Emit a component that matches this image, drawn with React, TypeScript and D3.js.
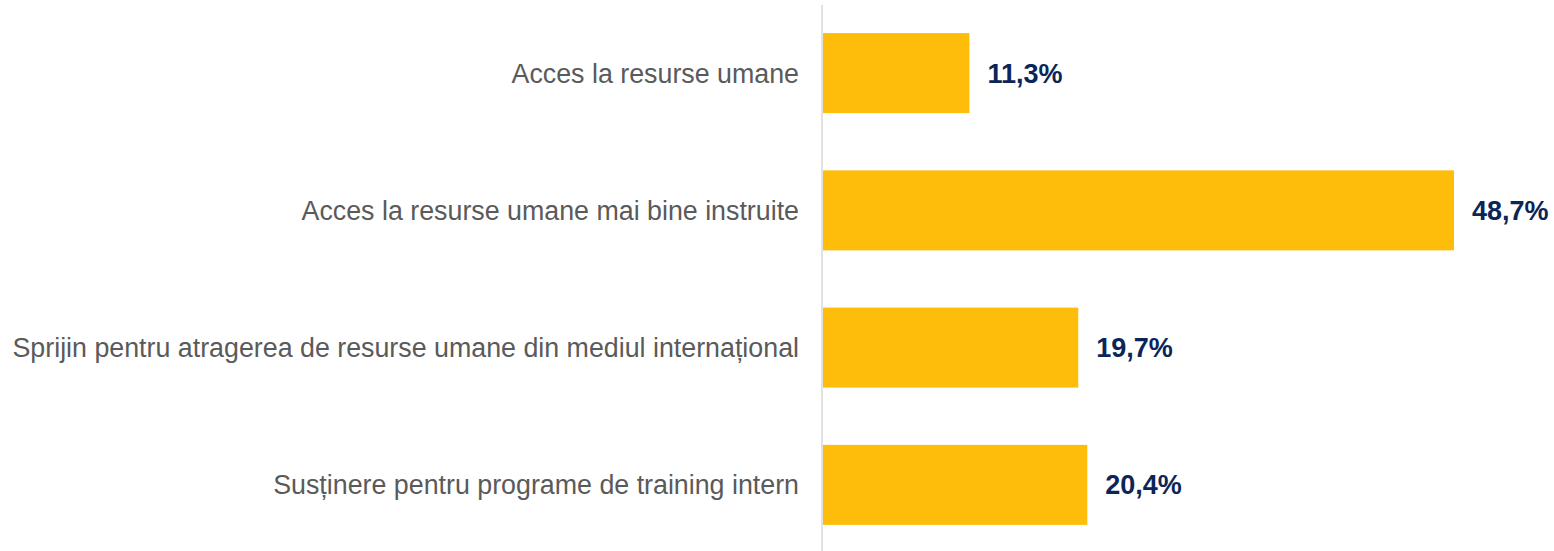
import React, { useEffect, useRef } from "react";
import * as d3 from "d3";

const categories = [
  "Acces la resurse umane",
  "Acces la resurse umane mai bine instruite",
  "Sprijin pentru atragerea de resurse umane din mediul internațional",
  "Susținere pentru programe de training intern",
];
const values = [11.3, 48.7, 19.7, 20.4];

const W = 1554;
const H = 551;

export default function App() {
  const ref = useRef<SVGSVGElement>(null);

  useEffect(() => {
    const svg = d3.select(ref.current);
    svg.selectAll("*").remove();

    const x0 = 823;
    const x = d3.scaleLinear().domain([0, 48.7]).range([x0, 1454]);
    const y = d3
      .scaleBand<string>()
      .domain(categories)
      .range([4.5, 553.5])
      .paddingInner(0.417)
      .paddingOuter(0.2085);

    const data = categories.map((c, i) => ({ c, v: values[i] }));

    // axis line
    svg
      .append("line")
      .attr("x1", x0 - 1)
      .attr("x2", x0 - 1)
      .attr("y1", 5)
      .attr("y2", H)
      .attr("stroke", "#d9d9d9")
      .attr("stroke-width", 1.5);

    svg
      .selectAll("rect.bar")
      .data(data)
      .join("rect")
      .attr("class", "bar")
      .attr("x", x0)
      .attr("y", (d) => y(d.c)!)
      .attr("width", (d) => x(d.v) - x0)
      .attr("height", y.bandwidth())
      .attr("fill", "#fdbd0a");

    svg
      .selectAll("text.cat")
      .data(data)
      .join("text")
      .attr("class", "cat")
      .attr("x", x0 - 24)
      .attr("y", (d) => y(d.c)! + y.bandwidth() / 2)
      .attr("dy", "0.35em")
      .attr("text-anchor", "end")
      .attr("font-family", "Liberation Sans, Arial, sans-serif")
      .attr("font-size", 26.8)
      .attr("fill", "#5a5a5a")
      .text((d) => d.c);

    svg
      .selectAll("text.val")
      .data(data)
      .join("text")
      .attr("class", "val")
      .attr("x", (d) => x(d.v) + 18)
      .attr("y", (d) => y(d.c)! + y.bandwidth() / 2)
      .attr("dy", "0.35em")
      .attr("font-family", "Liberation Sans, Arial, sans-serif")
      .attr("font-size", 27)
      .attr("font-weight", "bold")
      .attr("fill", "#0b2559")
      .text((d) => d.v.toFixed(1).replace(".", ",") + "%");
  }, []);

  return (
    <svg
      ref={ref}
      width={W}
      height={H}
      style={{ position: "absolute", left: 0, top: 0, background: "#fff" }}
    />
  );
}
